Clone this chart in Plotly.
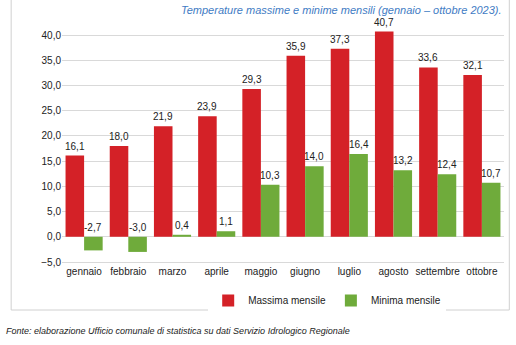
import plotly.graph_objects as go

months = ["gennaio", "febbraio", "marzo", "aprile", "maggio", "giugno",
          "luglio", "agosto", "settembre", "ottobre"]
massima = [16.1, 18.0, 21.9, 23.9, 29.3, 35.9, 37.3, 40.7, 33.6, 32.1]
minima = [-2.7, -3.0, 0.4, 1.1, 10.3, 14.0, 16.4, 13.2, 12.4, 10.7]
y_ticks = [-5, 0, 5, 10, 15, 20, 25, 30, 35, 40]

RED = "#d42127"
GREEN = "#6fab3b"
FONT = "Liberation Sans, Arial, sans-serif"

fig = go.Figure()
fig.add_trace(go.Bar(x=months, y=massima, name="Massima mensile",
                     marker=dict(color=RED, line=dict(width=0))))
fig.add_trace(go.Bar(x=months, y=minima, name="Minima mensile",
                     marker=dict(color=GREEN, line=dict(width=0))))

def fmt(v):
    return f"{v:.1f}".replace(".", ",")

W, L, R = 516, 62, 12
plot_w = W - L - R
cat_w = plot_w / len(months)
bargap = 0.16
bar_w = cat_w * (1 - bargap) / 2
annos = []
for i, m in enumerate(months):
    for vals, shift in ((massima, -bar_w / 2), (minima, bar_w / 2)):
        v = vals[i]
        annos.append(dict(x=m, y=max(v, 0), xref="x", yref="y", text=fmt(v),
                          showarrow=False, yanchor="bottom", xshift=shift, yshift=2,
                          font=dict(family=FONT, size=10, color="#222")))

annos.append(dict(x=1, y=1, xref="paper", yref="paper", xanchor="right", yanchor="bottom",
                  yshift=4, showarrow=False,
                  text="<i>Temperature massime e minime mensili (gennaio – ottobre 2023).</i>",
                  font=dict(family=FONT, size=11, color="#3f7cc4")))
annos.append(dict(x=0, y=0, xref="paper", yref="paper", xanchor="left", yanchor="top",
                  xshift=-58, yshift=-62, showarrow=False,
                  text="<i>Fonte: elaborazione Ufficio comunale di statistica su dati Servizio Idrologico Regionale</i>",
                  font=dict(family=FONT, size=9, color="#222")))

fig.update_layout(
    width=W, height=345,
    margin=dict(l=L, r=R, t=22, b=83),
    paper_bgcolor="white", plot_bgcolor="white",
    barmode="group", bargap=bargap, bargroupgap=0,
    separators=",.",
    font=dict(family=FONT, size=10, color="#222"),
    showlegend=True,
    legend=dict(orientation="h", x=0.6, xanchor="center", y=-0.1, yanchor="top",
                font=dict(family=FONT, size=10, color="#222"), itemwidth=30),
    annotations=annos,
    shapes=[dict(type="rect", xref="paper", yref="paper", x0=-0.115, x1=1.012,
                 y0=-0.2, y1=1.2, line=dict(color="#d0d0d0", width=1),
                 fillcolor="rgba(0,0,0,0)", layer="below")],
)
fig.update_yaxes(range=[-5, 42.6], tickvals=y_ticks, tickformat=".1f",
                 showgrid=True, gridcolor="#d9d9d9", gridwidth=1,
                 zeroline=True, zerolinecolor="#d9d9d9", zerolinewidth=1,
                 showline=False, ticks="", tickfont=dict(size=10, color="#222"))
fig.update_xaxes(showgrid=False, showline=True, linecolor="#d9d9d9", ticks="",
                 tickfont=dict(size=10, color="#222"))

fig.write_html("out.html")
